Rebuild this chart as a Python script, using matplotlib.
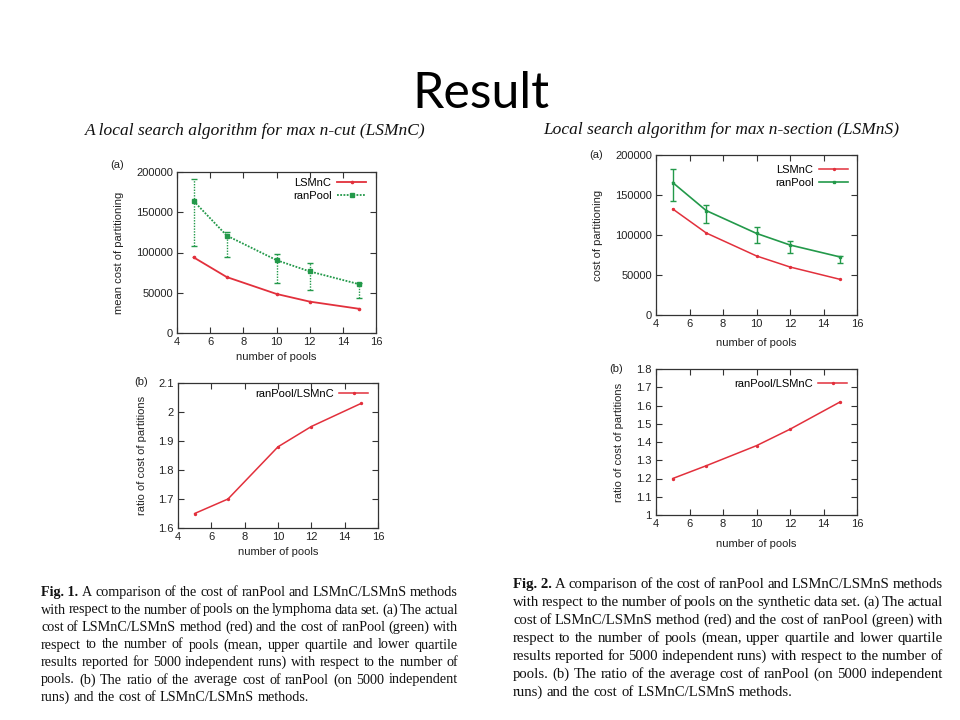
import matplotlib
matplotlib.use("Agg")
import matplotlib.pyplot as plt
from matplotlib.ticker import FuncFormatter, MultipleLocator

# ---------------- data ----------------
pools = [5, 7, 10, 12, 15]

# Fig 1 (lymphoma)
f1_lsmnc = [94000, 69500, 48500, 39000, 30000]
f1_ranpool = [164000, 121000, 90500, 76500, 60500]
f1_ranpool_upper = [191000, 126000, 98500, 87000, 62500]
f1_ranpool_lower = [108000, 94000, 62500, 53500, 43000]
f1_ratio = [1.65, 1.70, 1.88, 1.95, 2.03]

# Fig 2 (synthetic)
f2_lsmnc = [132500, 102500, 73800, 60000, 44500]
f2_ranpool = [165500, 130500, 102000, 87500, 72500]
f2_ranpool_upper = [182500, 137000, 109500, 92000, 74000]
f2_ranpool_lower = [142000, 115000, 89500, 77500, 64500]
f2_ratio = [1.20, 1.27, 1.38, 1.47, 1.62]

title = "Result"
heading_left = "A local search algorithm for max n-cut (LSMnC)"
heading_right = "Local search algorithm for max n-section (LSMnS)"

caption_left = [
    ["Fig. 1.", "A comparison of the cost of ranPool and LSMnC/LSMnS methods"],
    ["", "with respect to the number of pools on the lymphoma data set. (a) The actual"],
    ["", "cost of LSMnC/LSMnS method (red) and the cost of ranPool (green) with"],
    ["", "respect to the number of pools (mean, upper quartile and lower quartile"],
    ["", "results reported for 5000 independent runs) with respect to the number of"],
    ["", "pools. (b) The ratio of the average cost of ranPool (on 5000 independent"],
    ["", "runs) and the cost of LSMnC/LSMnS methods."],
]
caption_right = [
    ["Fig. 2.", "A comparison of the cost of ranPool and LSMnC/LSMnS methods"],
    ["", "with respect to the number of pools on the synthetic data set. (a) The actual"],
    ["", "cost of LSMnC/LSMnS method (red) and the cost of ranPool (green) with"],
    ["", "respect to the number of pools (mean, upper quartile and lower quartile"],
    ["", "results reported for 5000 independent runs) with respect to the number of"],
    ["", "pools. (b) The ratio of the average cost of ranPool (on 5000 independent"],
    ["", "runs) and the cost of LSMnC/LSMnS methods."],
]

RED = "#e2303c"
GREEN = "#23994a"
AXC = "#333333"
TXT = "#222222"

W, H = 960, 720
fig = plt.figure(figsize=(9.6, 7.2), dpi=100)
plt.rcParams["font.family"] = ["Liberation Sans", "DejaVu Sans"]


def ax_at(x0, y0, x1, y1):
    return fig.add_axes([x0 / W, 1 - y1 / H, (x1 - x0) / W, (y1 - y0) / H])


def px(x, y):
    return x / W, 1 - y / H


def style(ax, xl, yl, ylim, ystep, box, xlab_y, ylab_x):
    x0, y0, x1, y1 = box
    ax.set_xlim(4, 16)
    ax.set_ylim(*ylim)
    ax.xaxis.set_major_locator(MultipleLocator(2))
    ax.yaxis.set_major_locator(MultipleLocator(ystep))
    fmt = FuncFormatter(lambda v, p: "%g" % round(v, 6))
    ax.xaxis.set_major_formatter(fmt)
    ax.yaxis.set_major_formatter(fmt)
    ax.tick_params(direction="in", top=True, right=True, length=4, width=0.8,
                   color=AXC, labelsize=8, labelcolor=TXT, pad=3)
    for s in ax.spines.values():
        s.set_color(AXC)
        s.set_linewidth(0.9)
    ax.set_xlabel(xl, fontsize=8, color=TXT)
    ax.set_ylabel(yl, fontsize=8, color=TXT)
    # label anchors: text top (x label) / text bottom edge (y label)
    ax.xaxis.set_label_coords(0.5, -((xlab_y - 5) - y1) / (y1 - y0))
    ax.yaxis.set_label_coords(-(x0 - (ylab_x + 5)) / (x1 - x0), 0.5)


def legend(ax, box, right_px, top_px):
    x0, y0, x1, y1 = box
    ax.legend(loc="upper right", frameon=False, markerfirst=False, fontsize=8,
              handlelength=2.6, handletextpad=0.5, labelspacing=0.3,
              borderpad=0, borderaxespad=0,
              bbox_to_anchor=((right_px - x0) / (x1 - x0), 1 - (top_px - y0) / (y1 - y0)))


# ---- top-left ----
b1 = (177, 172, 376, 333)
ax1 = ax_at(*b1)
ax1.plot(pools, f1_lsmnc, color=RED, lw=1.3, marker="o", ms=1.6, label="LSMnC")
lo = [m - l for m, l in zip(f1_ranpool, f1_ranpool_lower)]
hi = [u - m for m, u in zip(f1_ranpool, f1_ranpool_upper)]
eb = ax1.errorbar(pools, f1_ranpool, yerr=[lo, hi], color=GREEN, ls="none",
                  capsize=2, elinewidth=1.0)
for c in eb[2]:
    c.set_linestyle((0, (1, 1)))
ax1.plot(pools, f1_ranpool, color=GREEN, lw=1.3, ls=(0, (1, 0.8)),
         marker="s", ms=2.3, label="ranPool")
style(ax1, "number of pools", "mean cost of partitioning", (0, 200000), 50000, b1, 357, 119)
legend(ax1, b1, 366, 178)

# ---- top-right ----
b2 = (656, 155, 857, 315)
ax2 = ax_at(*b2)
ax2.plot(pools, f2_lsmnc, color=RED, lw=1.1, marker="o", ms=1.4, label="LSMnC")
lo = [m - l for m, l in zip(f2_ranpool, f2_ranpool_lower)]
hi = [u - m for m, u in zip(f2_ranpool, f2_ranpool_upper)]
ax2.errorbar(pools, f2_ranpool, yerr=[lo, hi], color=GREEN, ls="none",
             capsize=2, elinewidth=1.0)
ax2.plot(pools, f2_ranpool, color=GREEN, lw=1.2, marker="s", ms=2.0, label="ranPool")
style(ax2, "number of pools", "cost of partitioning", (0, 200000), 50000, b2, 343, 598)
legend(ax2, b2, 848, 165)

# ---- bottom-left ----
b3 = (178, 383, 378, 528)
ax3 = ax_at(*b3)
ax3.plot(pools, f1_ratio, color=RED, lw=1.1, marker="o", ms=1.4, label="ranPool/LSMnC")
style(ax3, "number of pools", "ratio of cost of partitions", (1.6, 2.1), 0.1, b3, 552, 142)
legend(ax3, b3, 368, 389)

# ---- bottom-right ----
b4 = (656, 369, 857, 515)
ax4 = ax_at(*b4)
ax4.plot(pools, f2_ratio, color=RED, lw=1.1, marker="o", ms=1.4, label="ranPool/LSMnC")
style(ax4, "number of pools", "ratio of cost of partitions", (1.0, 1.8), 0.1, b4, 544, 619)
legend(ax4, b4, 847, 379)

# panel letters
for (x, y, s) in [(117, 165, "(a)"), (596, 155, "(a)"), (141, 382, "(b)"), (616, 369, "(b)")]:
    fig.text(*px(x, y), s, fontsize=8, ha="center", va="center", color=TXT)

# title & headings
fig.text(*px(481, 108), title, fontsize=36, ha="center", va="baseline",
         family=["Lato", "DejaVu Sans"], color="black")
fig.text(*px(85, 131), heading_left, fontsize=12.5, ha="left", va="center",
         family=["Liberation Serif"], style="italic", color="#111111")
fig.text(*px(543, 130), heading_right, fontsize=12.5, ha="left", va="center",
         family=["Liberation Serif"], style="italic", color="#111111")

# justified captions
renderer = fig.canvas.get_renderer()


def caption(lines, x0, x1, y0, dy, fs):
    for i, (bold, rest) in enumerate(lines):
        y = y0 + i * dy
        toks = []
        if bold:
            toks.append((bold, "bold"))
        toks += [(w, "normal") for w in rest.split()]
        arts = []
        widths = []
        for t, wgt in toks:
            a = fig.text(0, 1 - y / H, t, fontsize=fs, family=["Liberation Serif"],
                         weight=wgt, ha="left", va="baseline", color="#111111")
            arts.append(a)
            widths.append(a.get_window_extent(renderer).width)
        if i < len(lines) - 1:
            gap = (x1 - x0 - sum(widths)) / (len(toks) - 1)
        else:
            gap = fs * 100 / 72 * 0.25
        x = x0
        for a, w in zip(arts, widths):
            a.set_x(x / W)
            x += w + gap


caption(caption_left, 41, 458, 596, 17.5, 10.2)
caption(caption_right, 513, 943, 588, 18, 10.6)

fig.savefig("out.png", dpi=100)
